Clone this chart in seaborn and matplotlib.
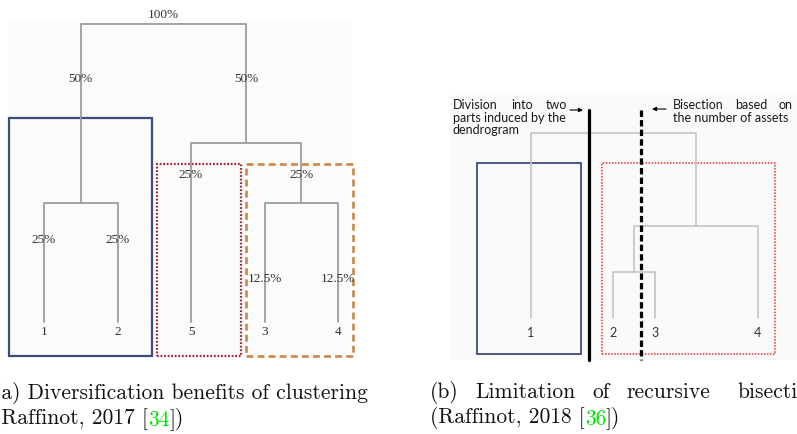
import numpy as np
import pandas as pd
import matplotlib
matplotlib.use("Agg")
import matplotlib.pyplot as plt
from matplotlib.patches import Rectangle
import seaborn as sns

# ---------------- data ----------------
# panel (a): dendrogram of 5 assets with HRP weights
leaf_labels_a = ["1", "2", "5", "3", "4"]
leaf_pos_a = [0, 1, 2, 3, 4]
merges_a = [(0, 1, 0.4), (3, 4, 0.4), (2, 6, 0.6), (5, 7, 1.0)]   # (child, child, height)
weight_nodes_a = [8, 5, 7, 2, 6, 0, 1, 3, 4]
weights_a = [1.0, 0.5, 0.5, 0.25, 0.25, 0.25, 0.25, 0.125, 0.125]

# panel (b): dendrogram of 4 assets
leaf_labels_b = ["1", "2", "3", "4"]
leaf_pos_b = [0, 2, 3, 5.5]
merges_b = [(1, 2, 0.25), (4, 3, 0.5), (0, 5, 1.0)]

note_left_b = [["Division", "into", "two"], ["parts induced by the"], ["dendrogram"]]
note_right_b = [["Bisection", "based", "on"], ["the number of assets"]]

caption_a = ["(a) Diversification benefits of clustering",
             ("(Raffinot, 2017 [", "34", "])")]
caption_b = [["(b)", "Limitation", "of", "recursive", "bisection"],
             ("(Raffinot, 2018 [", "36", "])")]

# ---------------- helpers ----------------
W, H = 797, 434
sns.set_theme(style="white")
plt.rcParams["font.family"] = ["DejaVu Sans"]

fig = plt.figure(figsize=(W / 100, H / 100), dpi=100)
fig.patch.set_facecolor("white")

ax_o = fig.add_axes([0, 0, 1, 1])
ax_o.set_xlim(0, W)
ax_o.set_ylim(H, 0)
ax_o.set_axis_off()


def dendro(leaf_pos, merges):
    nodes = [(float(p), 0.0) for p in leaf_pos]
    rows = []
    for k, (a, b, h) in enumerate(merges):
        (xa, ha), (xb, hb) = nodes[a], nodes[b]
        for x, y in [(xa, ha), (xa, h), (xb, h), (xb, hb)]:
            rows.append(dict(seg=k, x=x, y=y))
        nodes.append(((xa + xb) / 2, h))
    return pd.DataFrame(rows), nodes


def panel_axes(pl, pr, pt, pb, x0, xu, y0, yu):
    ax = fig.add_axes([pl / W, 1 - pb / H, (pr - pl) / W, (pb - pt) / H])
    lims = ((pl - x0) / xu, (pr - x0) / xu), ((y0 - pb) / yu, (y0 - pt) / yu)
    return ax, lims


def box(ax, x0, x1, h0, h1, **kw):
    ax.add_patch(Rectangle((x0, h0), x1 - x0, h1 - h0, fill=False, **kw))


# faint scanned backgrounds
ax_o.add_patch(Rectangle((9, 20), 343, 336, color="#fbfbf9", lw=0, zorder=0))
ax_o.add_patch(Rectangle((450, 95), 347, 265, color="#fafafa", lw=0, zorder=0))

# ---------------- panel (a) ----------------
ax_a, lim_a = panel_axes(0, 400, 0, 370, 44, 73.5, 322, 298)
df_a, nodes_a = dendro(leaf_pos_a, merges_a)
sns.lineplot(data=df_a, x="x", y="y", units="seg", estimator=None, sort=False,
             color="#9c9c9c", lw=1.3, ax=ax_a, legend=False)
lab_h_a = [1.03, 0.815, 0.815, 0.493, 0.493, 0.275, 0.275, 0.144, 0.144]
for n, w, hh in zip(weight_nodes_a, weights_a, lab_h_a):
    ax_a.text(nodes_a[n][0], hh, f"{w * 100:g}%", ha="center", va="center",
              family="Liberation Serif", fontsize=9.5, color="#333333")
for p, lab in zip(leaf_pos_a, leaf_labels_a):
    ax_a.text(p, -0.034, lab, ha="center", va="center",
              family="Liberation Serif", fontsize=9.5, color="#333333")
box(ax_a, -0.476, 1.469, -0.114, 0.685, ec="#3d4c7e", lw=1.6)
box(ax_a, 1.537, 2.680, -0.114, 0.530, ec="#a3243c", lw=1.6, ls=(0, (0.8, 0.8)))
box(ax_a, 2.748, 4.204, -0.114, 0.530, ec="#c8874b", lw=1.9, ls=(0, (2.6, 1.6)),
    joinstyle="round")
ax_a.set_xlim(*lim_a[0]); ax_a.set_ylim(*lim_a[1]); ax_a.set_axis_off()

# ---------------- panel (b) ----------------
ax_b, lim_b = panel_axes(420, 797, 0, 370, 531, 41.2, 318, 185)
df_b, nodes_b = dendro(leaf_pos_b, merges_b)
sns.lineplot(data=df_b, x="x", y="y", units="seg", estimator=None, sort=False,
             color="#c4c4c4", lw=1.2, ax=ax_b, legend=False)
for p, lab in zip(leaf_pos_b, leaf_labels_b):
    ax_b.text(p, -0.081, lab, ha="center", va="center",
              family="Lato", fontsize=9, color="#333333")
box(ax_b, -1.31, 1.21, -0.195, 0.838, ec="#3d4c7e", lw=1.3)
box(ax_b, 1.72, 5.92, -0.195, 0.838, ec="#e8322f", lw=1.1, ls=(0, (1, 1)))
ax_b.plot([1.41, 1.41], [1.124, -0.227], color="black", lw=2.3)
ax_b.plot([2.67, 2.67], [1.124, -0.227], color="black", lw=2.3, ls=(0, (2, 1)))
ax_b.set_xlim(*lim_b[0]); ax_b.set_ylim(*lim_b[1]); ax_b.set_axis_off()

# annotations of panel (b)
note_kw = dict(family="Lato", fontsize=9, color="#1a1a1a", va="center")
left_x = [[453, 511, 546], [453], [453]]
for words, xs, y in zip(note_left_b, left_x, [105, 117.5, 129.5]):
    for wd, x in zip(words, xs):
        ax_o.text(x, y, wd, **note_kw)
right_x = [[673, 735, 779], [673]]
for words, xs, y in zip(note_right_b, right_x, [105, 117.5]):
    for wd, x in zip(words, xs):
        ax_o.text(x, y, wd, **note_kw)
ax_o.annotate("", xy=(583, 110), xytext=(570, 110),
              arrowprops=dict(arrowstyle="-|>", lw=0.8, color="black",
                              mutation_scale=6, shrinkA=0, shrinkB=0))
ax_o.annotate("", xy=(652, 109), xytext=(666, 109),
              arrowprops=dict(arrowstyle="-|>", lw=0.8, color="black",
                              mutation_scale=6, shrinkA=0, shrinkB=0))

# ---------------- captions ----------------
cap_kw = dict(family=["cmr10", "DejaVu Serif"], fontsize=15.5, color="#111111")
GREEN = "#00e600"


def cited(x, y, parts):
    t1 = ax_o.text(x, y, parts[0], va="baseline", ha="left", **cap_kw)
    t2 = ax_o.annotate(parts[1], xy=(1, 0), xycoords=t1, va="bottom", ha="left",
                       **{**cap_kw, "color": GREEN})
    ax_o.annotate(parts[2], xy=(1, 0), xycoords=t2, va="bottom", ha="left", **cap_kw)


ax_o.text(-7, 399, caption_a[0], va="baseline", ha="left", **cap_kw)
cited(-7, 424, caption_a[1])
for wd, x in zip(caption_b[0], [430, 475, 592, 626, 737]):
    ax_o.text(x, 398, wd, va="baseline", ha="left", **cap_kw)
cited(430, 423, caption_b[1])

fig.savefig("out.png", dpi=100)
